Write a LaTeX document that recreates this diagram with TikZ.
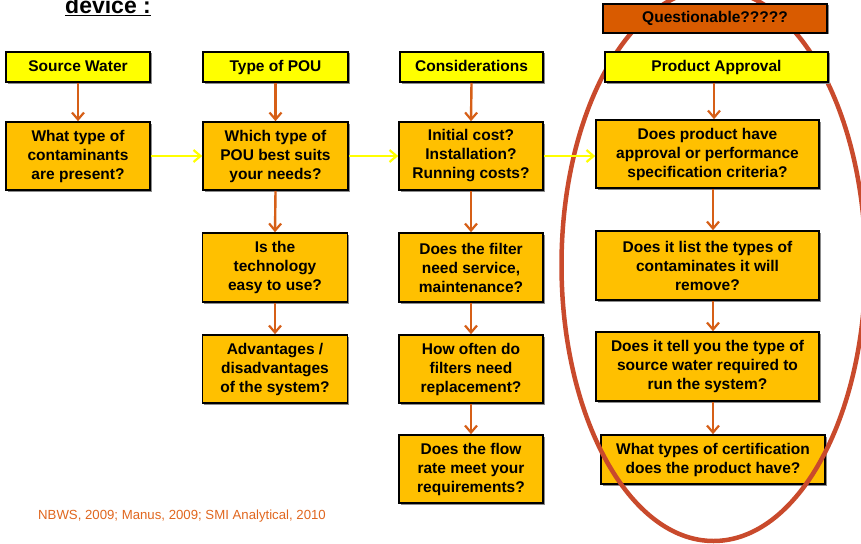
\documentclass[tikz,border=0pt]{standalone}
\usepackage{fontspec}
\setmainfont{Liberation Sans}
\usetikzlibrary{arrows.meta,shadows}
\definecolor{hdr}{HTML}{FFFF00}
\definecolor{bx}{HTML}{FFC000}
\definecolor{qbx}{HTML}{D95B00}
\definecolor{arr}{HTML}{D65F17}
\definecolor{ell}{HTML}{C94A2C}
\definecolor{ref}{HTML}{E0661E}
\tikzset{
  base/.style={draw=black, line width=1.6pt, align=center, inner sep=0pt,
    font=\fontsize{15.5}{19}\selectfont\bfseries,
    drop shadow={shadow xshift=1.5pt, shadow yshift=-1.5pt, fill=black!45, opacity=1}},
  hbox/.style={base, fill=hdr, minimum height=30pt, text height=11.5pt, text depth=3pt},
  qbox/.style={base, fill=qbx, minimum height=29pt, text height=11.5pt, text depth=3pt},
  abox/.style={base, fill=bx},
  down/.style={draw=arr, line width=2.4pt, -{Straight Barb[length=7pt,width=12pt,line width=2.2pt]}},
  side/.style={draw=hdr, line width=2.4pt, -{Straight Barb[length=7pt,width=12pt,line width=2.2pt]}},
}
\begin{document}
\begin{tikzpicture}[x=1pt,y=-1pt]
\useasboundingbox (0,0) rectangle (861,543);
\clip (0,0) rectangle (861,543);
% title
\node[anchor=base west, inner sep=0pt, font=\fontsize{23}{26}\selectfont\bfseries] (title) at (65,14) {\underline{device :}};
% headers
\node[hbox, minimum width=144pt] (h1) at (78,67) {Source Water};
\node[hbox, minimum width=145pt] (h2) at (275.5,67) {Type of POU};
\node[hbox, minimum width=143pt] (h3) at (471.5,67) {Considerations};
% column 1
\node[abox, minimum width=144pt, minimum height=68pt] (a1) at (78,156) {What type of\\contaminants\\are present?};
% column 2
\node[abox, minimum width=145pt, minimum height=68pt] (b1) at (275.5,156) {Which type of\\POU best suits\\your needs?};
\node[abox, minimum width=145pt, minimum height=69pt] (b2) at (275,267.5) {Is the\\technology\\easy to use?};
\node[abox, minimum width=145pt, minimum height=68pt] (b3) at (275,369) {Advantages /\\disadvantages\\of the system?};
% column 3
\node[abox, minimum width=144pt, minimum height=68pt] (c1) at (471,156) {Initial cost?\\Installation?\\Running costs?};
\node[abox, minimum width=144pt, minimum height=69pt] (c2) at (471,267.5) {Does the filter\\need service,\\maintenance?};
\node[abox, minimum width=144pt, minimum height=68pt] (c3) at (471,369) {How often do\\filters need\\replacement?};
\node[abox, minimum width=144pt, minimum height=68pt] (c4) at (471,469) {Does the flow\\rate meet your\\requirements?};
% column 4
\node[abox, minimum width=223pt, minimum height=68pt] (d1) at (707.5,154) {Does product have\\approval or performance\\specification criteria?};
\node[abox, minimum width=223pt, minimum height=69pt] (d2) at (707.5,265.5) {Does it list the types of\\contaminates it will\\remove?};
\node[abox, minimum width=223pt, minimum height=69pt] (d3) at (707.5,366.5) {Does it tell you the type of\\source water required to\\run the system?};
\node[abox, minimum width=224pt, minimum height=49pt] (d4) at (713,459.5) {What types of certification\\does the product have?};
% ellipse
\draw[ell, line width=4.5pt] (713.5,265) ellipse [x radius=152, y radius=276];
% top boxes over ellipse
\node[qbox, minimum width=224pt] (q) at (715,18.5) {Questionable?????};
\node[hbox, minimum width=223pt] (h4) at (716.5,67) {Product Approval};
% arrows down
\draw[down] (h1.south) -- (a1.north);
\draw[down] (h2.south) -- (b1.north);
\draw[down] (b1.south) -- (b2.north);
\draw[down] (b2.south) -- (b3.north);
\draw[down] (h3.south) -- (c1.north);
\draw[down] (c1.south) -- (c2.north);
\draw[down] (c2.south) -- (c3.north);
\draw[down] (c3.south) -- (c4.north);
\draw[down] (h4.south -| 714,0) -- (d1.north -| 714,0);
\draw[down] (d1.south -| 713,0) -- (d2.north -| 713,0);
\draw[down] (d2.south -| 713,0) -- (d3.north -| 713,0);
\draw[down] (d3.south -| 713,0) -- (d4.north -| 713,0);
% arrows side
\draw[side] (a1.east) -- (b1.west);
\draw[side] (b1.east) -- (c1.west);
\draw[side] (c1.east) -- (d1.west |- c1.east);
% reference
\node[anchor=base west, inner sep=0pt, text=ref, font=\fontsize{13.2}{15}\selectfont] (src) at (38,519) {NBWS, 2009; Manus, 2009; SMI Analytical, 2010};
\end{tikzpicture}
\end{document}
